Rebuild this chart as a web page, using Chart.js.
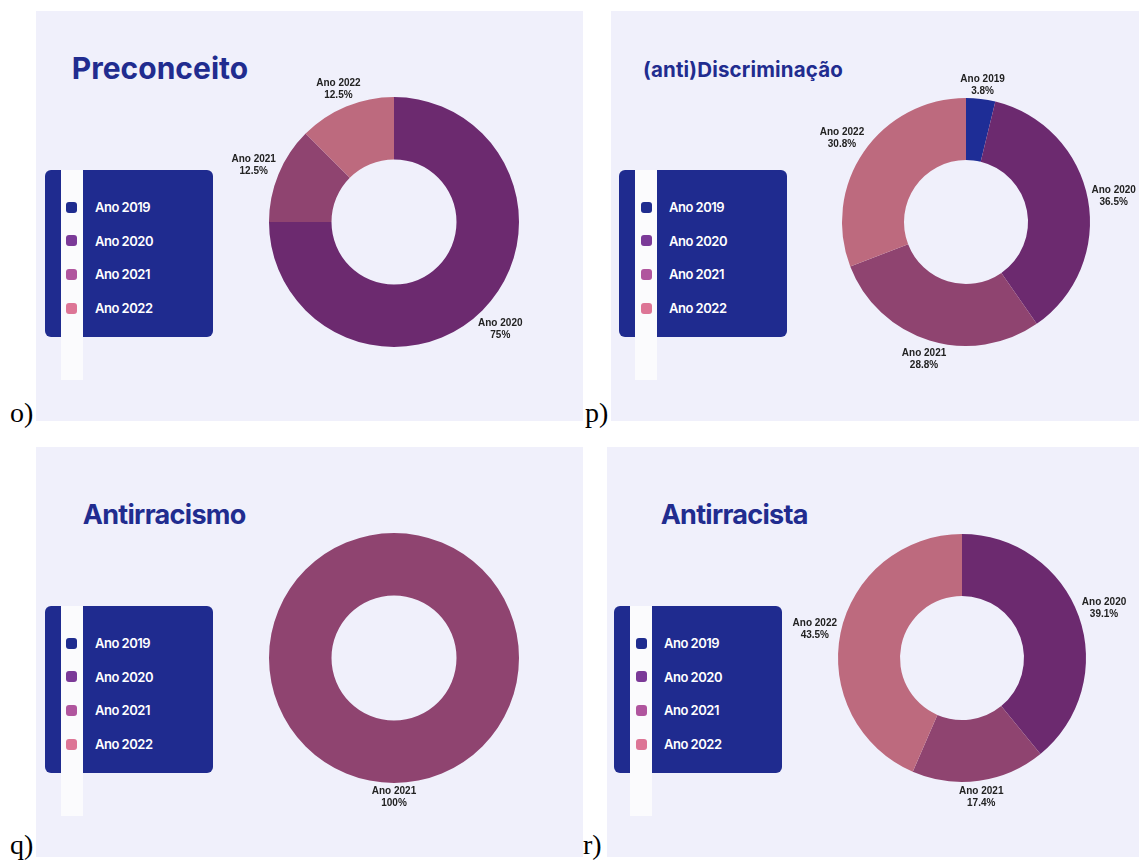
<!DOCTYPE html>
<html lang="pt">
<head>
<meta charset="utf-8">
<title>Ocorrências por ano</title>
<script src="https://cdn.jsdelivr.net/npm/chart.js@4.4.1/dist/chart.umd.min.js"></script>
<style>
  html, body { margin: 0; padding: 0; background: #ffffff; }
  body { width: 1139px; height: 860px; overflow: hidden; position: relative; }
  .bg { position: absolute; background: #f0f0fb; }
  .title { position: absolute; white-space: nowrap; font-family: Inter, "Noto Sans", sans-serif; color: #212c8f; line-height: 1; }
  .legend { position: absolute; width: 168px; height: 167px; background: #1f2b8f; border-radius: 6px; }
  .stripe { position: absolute; width: 22px; height: 210px; background: #fbfbfd; }
  .item { position: absolute; font-family: Inter, "Noto Sans", sans-serif; font-weight: 600; font-size: 13px; color: #ffffff; line-height: 1; white-space: nowrap; letter-spacing: -0.5px; }
  .swatch { position: absolute; width: 11px; height: 11px; border-radius: 3px; }
  .tag { position: absolute; font-family: "Liberation Serif", "Times New Roman", serif; font-size: 28px; color: #000; line-height: 1; }
  canvas { position: absolute; }
</style>
</head>
<body>
<script>
// Categories and colours shared by all four rings
const categories = ['Ano 2019', 'Ano 2020', 'Ano 2021', 'Ano 2022'];
const sliceColors = ['#1e2d96', '#6c2a6f', '#8f4470', '#bd6a7e'];
const legendColors = ['#1f2c8f', '#7b3a98', '#b0559e', '#dd7596'];

// Share of each year (%) per term
const preconceito = [0, 75, 12.5, 12.5];
const antiDiscriminacao = [3.8, 36.5, 28.8, 30.8];
const antirracismo = [0, 0, 100, 0];
const antirracista = [0, 39.1, 17.4, 43.5];

const titles = ['Preconceito', '(anti)Discriminação', 'Antirracismo', 'Antirracista'];
const panelTags = ['o)', 'p)', 'q)', 'r)'];
const series = [preconceito, antiDiscriminacao, antirracismo, antirracista];

// Page geometry of each panel
const layout = [
  { bg: [36, 11, 547, 410], title: { x: 71.7, base: 79.3, size: 30, weight: 700, width: 176.5 },
    legend: { box: 45, stripe: 61, swatch: 66, text: 95, top: 170 }, center: [394, 222], r: 125, tag: [10, 422] },
  { bg: [611, 11, 528, 410], title: { x: 643, base: 77.5, size: 20.5, weight: 700, width: 200 },
    legend: { box: 619, stripe: 635, swatch: 641, text: 669, top: 170 }, center: [966, 222], r: 124, tag: [585, 422] },
  { bg: [36, 447, 547, 410], title: { x: 82.7, base: 524, size: 27, weight: 700, width: 163 },
    legend: { box: 45, stripe: 61, swatch: 66, text: 95, top: 606 }, center: [394, 658], r: 125, tag: [10, 854] },
  { bg: [607, 447, 532, 410], title: { x: 660.7, base: 524, size: 27, weight: 700, width: 147 },
    legend: { box: 614, stripe: 630, swatch: 636, text: 664, top: 606 }, center: [962, 658], r: 124, tag: [583, 854] }
];

const INTER_BASE = 0.864;   // baseline position within a line-height:1 box
const SERIF_BASE = 0.837;

function el(cls, css, text) {
  const d = document.createElement('div');
  d.className = cls;
  Object.assign(d.style, css);
  if (text !== undefined) d.textContent = text;
  document.body.appendChild(d);
  return d;
}

// Labels drawn just outside each ring slice: category + share
const outsideLabels = {
  id: 'outsideLabels',
  afterDatasetsDraw(chart) {
    const { ctx } = chart;
    const ds = chart.data.datasets[0];
    const meta = chart.getDatasetMeta(0);
    ctx.save();
    ctx.font = 'bold 10px "Liberation Sans", Arial, sans-serif';
    ctx.fillStyle = '#222222';
    ctx.textAlign = 'center';
    ctx.textBaseline = 'alphabetic';
    meta.data.forEach((arc, i) => {
      const v = ds.data[i];
      if (!v) return;
      const p = arc.getProps(['x', 'y', 'startAngle', 'endAngle', 'outerRadius'], true);
      const mid = (p.startAngle + p.endAngle) / 2;
      const dx = Math.cos(mid), dy = Math.sin(mid);
      const lines = [chart.data.labels[i], v + '%'];
      const w = Math.max(...lines.map(t => ctx.measureText(t).width));
      const h = 20;
      const dist = p.outerRadius + 2.5 + Math.abs(dx) * w / 2 + Math.abs(dy) * h / 2;
      const cx = p.x + dx * dist, cy = p.y + dy * dist;
      ctx.fillText(lines[0], cx, cy - 2);
      ctx.fillText(lines[1], cx, cy + 10);
    });
    ctx.restore();
  }
};

layout.forEach((L, k) => {
  // panel background
  el('bg', { left: L.bg[0] + 'px', top: L.bg[1] + 'px', width: L.bg[2] + 'px', height: L.bg[3] + 'px' });

  // title
  const t = el('title', {
    left: L.title.x + 'px',
    top: (L.title.base - INTER_BASE * L.title.size) + 'px',
    fontSize: L.title.size + 'px',
    fontWeight: L.title.weight
  }, titles[k]);
  const tw = t.getBoundingClientRect().width;
  t.style.letterSpacing = ((L.title.width - tw) / titles[k].length) + 'px';

  // legend box, white stripe, swatches and names
  const g = L.legend;
  el('legend', { left: g.box + 'px', top: g.top + 'px' });
  el('stripe', { left: g.stripe + 'px', top: g.top + 'px' });
  categories.forEach((name, i) => {
    const cy = g.top + 37.2 + i * 33.7;
    el('swatch', { left: g.swatch + 'px', top: (cy - 5.5) + 'px', background: legendColors[i] });
    el('item', { left: g.text + 'px', top: (cy + 5.1 - INTER_BASE * 13) + 'px' }, name);
  });

  // panel letter
  el('tag', { left: L.tag[0] + 'px', top: (L.tag[1] - SERIF_BASE * 28) + 'px' }, panelTags[k]);

  // ring chart
  const W = 400, H = 340;
  const c = document.createElement('canvas');
  c.width = W; c.height = H;
  c.style.left = (L.center[0] - W / 2) + 'px';
  c.style.top = (L.center[1] - H / 2) + 'px';
  c.style.width = W + 'px'; c.style.height = H + 'px';
  document.body.appendChild(c);
  const padX = W / 2 - L.r, padY = H / 2 - L.r;
  new Chart(c, {
    type: 'doughnut',
    data: {
      labels: categories,
      datasets: [{ data: series[k], backgroundColor: sliceColors, borderWidth: 0, hoverOffset: 0 }]
    },
    options: {
      responsive: false,
      devicePixelRatio: 1,
      animation: false,
      cutout: '50%',
      layout: { padding: { left: padX, right: padX, top: padY, bottom: padY } },
      plugins: { legend: { display: false }, tooltip: { enabled: false } },
      events: []
    },
    plugins: [outsideLabels]
  });
});
</script>
</body>
</html>
